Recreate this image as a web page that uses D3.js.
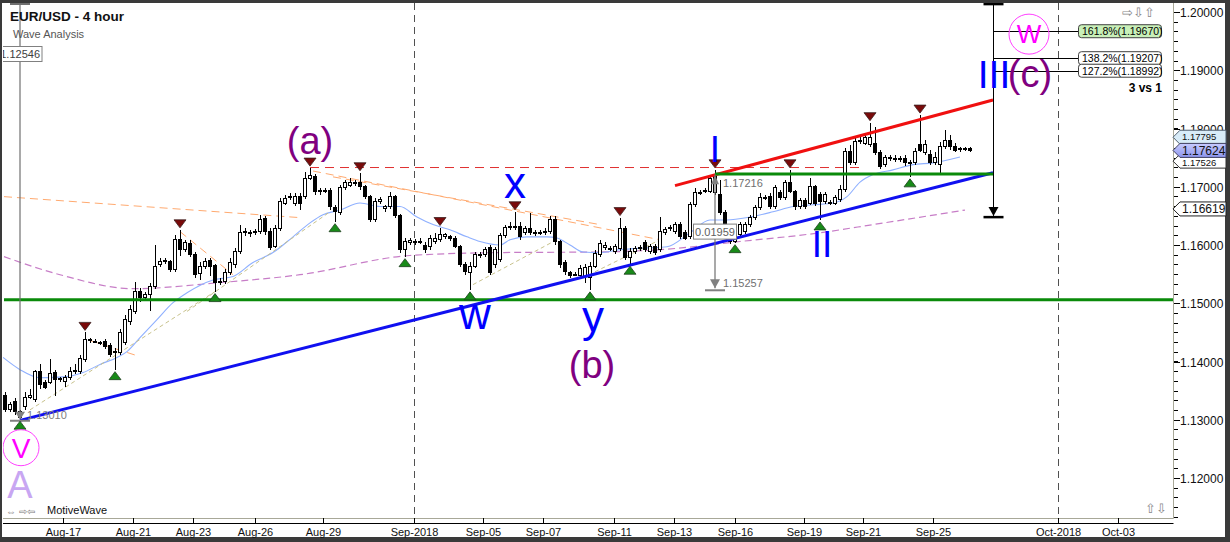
<!DOCTYPE html>
<html><head><meta charset="utf-8">
<script src="https://cdn.jsdelivr.net/npm/d3@7"></script>
<style>
body{margin:0;background:#fff;}
svg{display:block;}
text{font-family:"Liberation Sans",Arial,sans-serif;}
</style>
</head><body>
<svg id="c" width="1230" height="542"></svg>
<script>
// ---------- DATA (4-hour EUR/USD bars) ----------
const opens=[1.1342,1.1317,1.1331,1.1314,1.1323,1.1338,1.1335,1.1383,1.1364,1.1364,
1.1381,1.1369,1.1366,1.1372,1.1383,1.1383,1.1403,1.1436,1.1435,1.1432,
1.1434,1.1427,1.1415,1.1415,1.1432,1.1469,1.1486,1.1520,1.1510,1.1515,
1.1528,1.1567,1.1571,1.1571,1.1558,1.1609,1.1592,1.1602,1.1583,1.1551,
1.1563,1.1573,1.1565,1.1537,1.1537,1.1553,1.1567,1.1588,1.1621,1.1621,
1.1621,1.1623,1.1645,1.1624,1.1597,1.1628,1.1672,1.1681,1.1672,1.1683,
1.1683,1.1715,1.1717,1.1693,1.1691,1.1693,1.1664,1.1655,1.1698,1.1703,
1.1707,1.1708,1.1700,1.1683,1.1643,1.1674,1.1662,1.1666,1.1683,1.1650,
1.1592,1.1604,1.1606,1.1605,1.1600,1.1597,1.1606,1.1609,1.1614,1.1614,
1.1612,1.1597,1.1567,1.1553,1.1563,1.1583,1.1583,1.1595,1.1567,1.1575,
1.1616,1.1630,1.1630,1.1631,1.1621,1.1628,1.1621,1.1622,1.1621,1.1623,
1.1643,1.1606,1.1570,1.1553,1.1549,1.1547,1.1546,1.1544,1.1563,1.1583,
1.1595,1.1594,1.1588,1.1594,1.1628,1.1578,1.1588,1.1594,1.1604,1.1588,
1.1597,1.1592,1.1621,1.1628,1.1623,1.1635,1.1621,1.1614,1.1669,1.1690,
1.1693,1.1691,1.1690,1.1686,1.1655,1.1630,1.1606,1.1618,1.1623,1.1635,
1.1647,1.1664,1.1681,1.1684,1.1666,1.1690,1.1681,1.1707,1.1691,1.1666,
1.1676,1.1672,1.1700,1.1686,1.1674,1.1672,1.1672,1.1678,1.1695,1.1760,
1.1741,1.1777,1.1775,1.1772,1.1775,1.1758,1.1738,1.1750,1.1748,1.1748,
1.1748,1.1741,1.1741,1.1772,1.1758,1.1755,1.1741,1.1739,1.1769,1.1780,
1.1769,1.1765,1.1764,1.1765];
const highs=[1.1347,1.1331,1.1338,1.1317,1.1347,1.1352,1.1386,1.1395,1.1369,1.1405,
1.1386,1.1374,1.1377,1.1390,1.1395,1.1412,1.1450,1.1440,1.1438,1.1436,
1.1438,1.1431,1.1424,1.1455,1.1479,1.1497,1.1537,1.1527,1.1520,1.1535,
1.1600,1.1578,1.1578,1.1575,1.1618,1.1626,1.1609,1.1609,1.1588,1.1571,
1.1578,1.1578,1.1568,1.1544,1.1558,1.1578,1.1595,1.1635,1.1630,1.1626,
1.1628,1.1652,1.1650,1.1630,1.1635,1.1681,1.1686,1.1690,1.1690,1.1690,
1.1726,1.1732,1.1722,1.1698,1.1698,1.1698,1.1669,1.1703,1.1712,1.1715,
1.1712,1.1724,1.1703,1.1686,1.1681,1.1683,1.1669,1.1691,1.1686,1.1653,
1.1612,1.1612,1.1611,1.1612,1.1606,1.1618,1.1621,1.1630,1.1621,1.1618,
1.1616,1.1600,1.1570,1.1570,1.1588,1.1588,1.1597,1.1600,1.1597,1.1621,
1.1635,1.1640,1.1657,1.1640,1.1633,1.1655,1.1626,1.1626,1.1630,1.1650,
1.1650,1.1609,1.1575,1.1556,1.1553,1.1565,1.1568,1.1570,1.1592,1.1609,
1.1606,1.1599,1.1602,1.1647,1.1633,1.1594,1.1599,1.1600,1.1609,1.1602,
1.1602,1.1648,1.1631,1.1635,1.1640,1.1640,1.1626,1.1674,1.1698,1.1695,
1.1698,1.1721,1.1729,1.1712,1.1660,1.1633,1.1623,1.1640,1.1640,1.1652,
1.1669,1.1690,1.1686,1.1690,1.1703,1.1695,1.1712,1.1729,1.1695,1.1681,
1.1681,1.1715,1.1703,1.1691,1.1691,1.1678,1.1686,1.1703,1.1767,1.1772,
1.1784,1.1787,1.1793,1.1810,1.1802,1.1763,1.1755,1.1755,1.1755,1.1753,
1.1755,1.1746,1.1767,1.1823,1.1780,1.1763,1.1760,1.1777,1.1798,1.1789,
1.1775,1.1769,1.1769,1.1769];
const lows=[1.1314,1.1314,1.1309,1.1301,1.1317,1.1335,1.1331,1.1352,1.1352,1.1361,
1.1340,1.1364,1.1356,1.1369,1.1379,1.1379,1.1400,1.1432,1.1431,1.1429,
1.1422,1.1407,1.1386,1.1412,1.1429,1.1463,1.1482,1.1503,1.1506,1.1486,
1.1525,1.1563,1.1568,1.1554,1.1554,1.1581,1.1588,1.1580,1.1544,1.1540,
1.1558,1.1547,1.1520,1.1532,1.1533,1.1549,1.1561,1.1585,1.1616,1.1614,
1.1618,1.1619,1.1618,1.1592,1.1594,1.1624,1.1669,1.1678,1.1667,1.1660,
1.1679,1.1712,1.1686,1.1686,1.1689,1.1660,1.1640,1.1652,1.1695,1.1700,
1.1702,1.1695,1.1679,1.1640,1.1640,1.1671,1.1657,1.1662,1.1647,1.1587,
1.1580,1.1600,1.1600,1.1602,1.1587,1.1592,1.1602,1.1606,1.1611,1.1607,
1.1594,1.1563,1.1549,1.1523,1.1560,1.1578,1.1580,1.1549,1.1561,1.1571,
1.1612,1.1626,1.1626,1.1609,1.1618,1.1618,1.1616,1.1618,1.1618,1.1619,
1.1600,1.1561,1.1549,1.1544,1.1546,1.1544,1.1535,1.1523,1.1560,1.1580,
1.1592,1.1590,1.1585,1.1590,1.1575,1.1567,1.1585,1.1590,1.1588,1.1585,
1.1583,1.1588,1.1618,1.1624,1.1619,1.1611,1.1609,1.1611,1.1666,1.1686,
1.1690,1.1689,1.1686,1.1652,1.1623,1.1602,1.1604,1.1614,1.1619,1.1631,
1.1643,1.1660,1.1678,1.1662,1.1662,1.1678,1.1678,1.1689,1.1660,1.1662,
1.1662,1.1669,1.1667,1.1643,1.1671,1.1669,1.1669,1.1674,1.1691,1.1738,
1.1738,1.1774,1.1772,1.1769,1.1755,1.1731,1.1734,1.1744,1.1743,1.1743,
1.1736,1.1717,1.1738,1.1760,1.1755,1.1738,1.1738,1.1721,1.1765,1.1763,
1.1760,1.1760,1.1762,1.1760];
const closes=[1.1317,1.1326,1.1314,1.1304,1.1338,1.1342,1.1383,1.1361,1.1356,1.1379,
1.1369,1.1371,1.1372,1.1383,1.1384,1.1405,1.1438,1.1437,1.1434,1.1433,
1.1426,1.1412,1.1417,1.1450,1.1472,1.1489,1.1520,1.1510,1.1515,1.1528,
1.1563,1.1571,1.1573,1.1558,1.1609,1.1592,1.1604,1.1583,1.1549,1.1563,
1.1571,1.1563,1.1535,1.1538,1.1553,1.1570,1.1588,1.1621,1.1623,1.1622,
1.1623,1.1643,1.1623,1.1595,1.1628,1.1674,1.1679,1.1683,1.1683,1.1672,
1.1715,1.1719,1.1691,1.1691,1.1693,1.1666,1.1657,1.1698,1.1707,1.1708,
1.1706,1.1700,1.1683,1.1643,1.1674,1.1678,1.1666,1.1683,1.1650,1.1592,
1.1606,1.1607,1.1605,1.1606,1.1592,1.1611,1.1612,1.1618,1.1618,1.1611,
1.1597,1.1567,1.1554,1.1563,1.1583,1.1584,1.1592,1.1553,1.1592,1.1616,
1.1630,1.1631,1.1631,1.1614,1.1628,1.1621,1.1622,1.1621,1.1623,1.1643,
1.1606,1.1567,1.1554,1.1547,1.1548,1.1560,1.1561,1.1563,1.1585,1.1602,
1.1600,1.1593,1.1597,1.1628,1.1578,1.1588,1.1594,1.1595,1.1592,1.1597,
1.1587,1.1623,1.1626,1.1630,1.1635,1.1614,1.1612,1.1669,1.1690,1.1689,
1.1692,1.1715,1.1717,1.1655,1.1626,1.1606,1.1618,1.1635,1.1635,1.1647,
1.1664,1.1681,1.1680,1.1666,1.1698,1.1681,1.1707,1.1691,1.1666,1.1676,
1.1666,1.1700,1.1672,1.1674,1.1686,1.1673,1.1681,1.1696,1.1760,1.1741,
1.1777,1.1780,1.1784,1.1784,1.1758,1.1734,1.1750,1.1749,1.1749,1.1747,
1.1741,1.1740,1.1760,1.1763,1.1772,1.1741,1.1751,1.1769,1.1780,1.1769,
1.1763,1.1764,1.1765,1.17624];

// time axis (bar positions of the labels)
const tickLabels=["Aug-17","Aug-21","Aug-23","Aug-26","Aug-29","Sep-2018","Sep-05","Sep-07","Sep-11","Sep-13","Sep-16","Sep-19","Sep-21","Sep-25","Oct-2018","Oct-03"];
const tickBars=[11.6,25.6,37.6,50,63.6,81.8,95.6,107.6,121.8,133.8,146,159.8,171.6,185.6,210.6,222.6];
const priceTicks=[1.12,1.13,1.14,1.15,1.16,1.17,1.18,1.19,1.20];

// indicators [bar, price]
const fastMA=[[-0.4,1.1407],[3,1.1386],[7,1.1372],[12.4,1.1374],[15.6,1.1381],[19,1.1395],[22.4,1.1407],[24.4,1.1417],[27,1.1441],[30.4,1.1472],[33.6,1.1501],[36.4,1.1518],[41.6,1.1540],[45.6,1.1546],[49.6,1.1570],[53.6,1.1587],[57.6,1.1614],[61,1.1638],[63.6,1.1652],[67,1.1660],[71,1.1672],[75,1.1666],[79,1.1666],[82.4,1.1648],[85.6,1.1635],[89,1.1626],[92.4,1.1614],[95,1.1606],[99,1.1600],[101,1.1609],[104.4,1.1614],[108.4,1.1614],[110.4,1.1612],[113,1.1600],[115.6,1.1588],[119,1.1587],[123,1.1592],[128.4,1.1595],[132.4,1.1597],[137,1.1621],[141,1.1643],[144.4,1.1643],[149,1.1648],[153.6,1.1657],[157.6,1.1666],[161.6,1.1669],[165.6,1.1672],[168.4,1.1683],[171,1.1708],[173.6,1.1721],[177.6,1.1729],[181.6,1.1738],[185.6,1.1741],[191,1.1751]];
const slowMA=[[-0.2,1.1580],[11,1.1549],[25.6,1.1525],[42.4,1.1535],[59,1.1549],[81,1.1582],[99,1.1587],[119,1.1588],[131,1.1592],[147,1.1606],[163,1.1621],[173.6,1.1635],[192,1.1660]];
const orangeLines=[[[-0.2,1.1683],[59,1.1647]],[[61.6,1.1727],[131,1.1609]],[[65.6,1.1717],[119,1.1635]],[[35,1.1623],[45.6,1.1549]],[[17,1.1436],[26.4,1.1410]]];
const tanLines=[[[5,1.1317],[42,1.1520]],[[36.4,1.1486],[65,1.1657]],[[93.6,1.1532],[111,1.1612]],[[118,1.1554],[131,1.1609]]];

// trend lines
const blueLine=[[3,1.1299],[197.6,1.1724]];
const redLine=[[134,1.1702],[197.6,1.1849]];
const greenTop=[[142,1.1722],[197.6,1.1722]];
const greenBase=[[-0.2,1.1506],[233.8,1.1506]];
const redDashed=[[61,1.1733],[171,1.1733]];

// swing markers
const highMarkers=[16,35,61,71,87,102,123,142,157,173,183];
const lowMarkers=[3,22,42,66,80,93,117,125,146,163,181];

// fib projection
const fibLevels=[1.19670,1.19207,1.18992];
const fibLabels=["161.8%(1.19670)","138.2%(1.19207)","127.2%(1.18992)"];

// wave labels [text, bar, price(baseline), colour, size]
const waveLabels=[
 ["(a)",61,1.1756,"#800080",38],
 ["x",102,1.1681,"#0000ff",44],
 ["w",94,1.1455,"#0000ff",44],
 ["y",117.6,1.1450,"#0000ff",44],
 ["(b)",117.4,1.1371,"#800080",38],
 ["(c)",205,1.1871,"#800080",38],
 ["I",142,1.1743,"#0000ff",37],
 ["II",163.4,1.1580,"#0000ff",37],
 ["III",197.8,1.1870,"#0000ff",39],
 ["A",3,1.1165,"#c8a6f2",38]
];
const circleLabels=[["W",204.8,1.1962,20,26],["V",3.2,1.1252,18,28]];

// ---------- DRAW ----------
const svg=d3.select("#c");
const x=d3.scaleLinear().domain([-0.2,233.8]).range([4,1174]);
const y=d3.scaleLinear().domain([1.12,1.20]).range([478,12]);
const line=d3.line().x(d=>x(d[0])).y(d=>y(d[1]));

svg.append("rect").attr("width",1230).attr("height",542).attr("fill","#3a3a3a");
svg.append("rect").attr("x",2).attr("y",3).attr("width",1223).attr("height",534).attr("fill","#fff");

svg.append("defs").append("clipPath").attr("id","pc").append("rect")
  .attr("x",3).attr("y",3).attr("width",1170).attr("height",515);
const g=svg.append("g").attr("clip-path","url(#pc)");

// month dashed verticals
tickLabels.forEach((t,i)=>{
  if(t.indexOf("2018")>=0){
    g.append("line").attr("x1",Math.round(x(tickBars[i]))+0.5).attr("x2",Math.round(x(tickBars[i]))+0.5)
     .attr("y1",3).attr("y2",518).attr("stroke","#505050").attr("stroke-dasharray","7,5");
  }
});

// indicators
g.append("path").datum(slowMA).attr("d",line.curve(d3.curveMonotoneX)).attr("fill","none")
 .attr("stroke","#c77dc7").attr("stroke-width",1.2).attr("stroke-dasharray","7,4");
g.append("path").datum(fastMA).attr("d",line.curve(d3.curveMonotoneX)).attr("fill","none")
 .attr("stroke","#8fb0ff").attr("stroke-width",1.1);
line.curve(d3.curveLinear);
orangeLines.forEach(s=>g.append("path").datum(s).attr("d",line).attr("fill","none")
 .attr("stroke","#ffaa70").attr("stroke-width",1).attr("stroke-dasharray","8,5"));
tanLines.forEach(s=>g.append("path").datum(s).attr("d",line).attr("fill","none")
 .attr("stroke","#c8c28c").attr("stroke-width",1).attr("stroke-dasharray","4,3"));

// red dashed (a) level
g.append("path").datum(redDashed).attr("d",line).attr("fill","none")
 .attr("stroke","#e03030").attr("stroke-width",1).attr("stroke-dasharray","9,6");

// candles
const bars=opens.map((o,i)=>({i,o,c:closes[i],h:Math.max(highs[i],o,closes[i]),l:Math.min(lows[i],o,closes[i])}));
const cg=g.append("g").attr("shape-rendering","crispEdges");
cg.selectAll("line").data(bars).join("line")
  .attr("x1",d=>x(d.i)).attr("x2",d=>x(d.i))
  .attr("y1",d=>y(d.h)).attr("y2",d=>y(d.l)).attr("stroke","#000");
cg.selectAll("rect").data(bars).join("rect")
  .attr("x",d=>x(d.i)-1.5).attr("width",3)
  .attr("y",d=>Math.min(y(d.o),y(d.c)))
  .attr("height",d=>Math.max(1,Math.abs(y(d.o)-y(d.c))))
  .attr("fill",d=>d.c>=d.o?"#fff":"#000").attr("stroke","#000");

// trend lines
g.append("path").datum(greenBase).attr("d",line).attr("stroke","#0a8a0a").attr("stroke-width",3).attr("fill","none");
g.append("path").datum(blueLine).attr("d",line).attr("stroke","#1010f0").attr("stroke-width",3).attr("fill","none");
g.append("path").datum(redLine).attr("d",line).attr("stroke","#f01010").attr("stroke-width",3).attr("fill","none");
g.append("path").datum(greenTop).attr("d",line).attr("stroke","#0a8a0a").attr("stroke-width",3).attr("fill","none");

// measurement 1 (left)
{
 const bx=x(3), yb=y(1.1300);
 g.append("line").attr("x1",bx).attr("x2",bx).attr("y1",3).attr("y2",yb-4).attr("stroke","#707070").attr("stroke-width",1.2);
 g.append("rect").attr("x",bx-10).attr("y",2).attr("width",20).attr("height",3).attr("fill","#707070");
 g.append("path").attr("d",`M${bx-5},${yb-8}L${bx+5},${yb-8}L${bx},${yb}Z`).attr("fill","#808080");
 g.append("rect").attr("x",bx-10).attr("y",yb).attr("width",20).attr("height",2).attr("fill","#808080");
 g.append("text").attr("x",bx+7).attr("y",yb-1).attr("font-size",11).attr("fill","#808080").text("1.13010");
 g.append("rect").attr("x",-5).attr("y",46.5).attr("width",47).attr("height",15).attr("fill","#fff").attr("stroke","#808080");
 g.append("text").attr("x",40).attr("y",58).attr("text-anchor","end").attr("font-size",11).attr("fill","#404040").text("1.12546");
}
// measurement 2 (wave I)
{
 const bx=x(142), yt=y(1.17216), yb=y(1.15257);
 g.append("line").attr("x1",bx).attr("x2",bx).attr("y1",yt).attr("y2",yb).attr("stroke","#707070").attr("stroke-width",1.2);
 g.append("path").attr("d",`M${bx-4},${yt+10}L${bx+4},${yt+10}L${bx},${yt+1}Z`).attr("fill","#808080");
 g.append("path").attr("d",`M${bx-5},${yb-9}L${bx+5},${yb-9}L${bx},${yb}Z`).attr("fill","#808080");
 g.append("rect").attr("x",bx-10).attr("y",yb+1).attr("width",20).attr("height",2).attr("fill","#808080");
 g.append("text").attr("x",bx+8).attr("y",yt+13).attr("font-size",11).attr("fill","#707070").text("1.17216");
 g.append("text").attr("x",bx+8).attr("y",yb-1).attr("font-size",11).attr("fill","#707070").text("1.15257");
 const ym=y(1.1623);
 g.append("rect").attr("x",bx-21.5).attr("y",ym-7.5).attr("width",43).attr("height",15).attr("fill","#fff").attr("stroke","#808080");
 g.append("text").attr("x",bx).attr("y",ym+4).attr("text-anchor","middle").attr("font-size",11).attr("fill","#606060").text((1.17216-1.15257).toFixed(5));
}
// measurement 3 (fib projection)
{
 const bx=Math.round(x(197.6))+0.5, yt=y(1.2014), yb=y(1.1650);
 g.append("line").attr("x1",bx).attr("x2",bx).attr("y1",yt).attr("y2",yb).attr("stroke","#000");
 g.append("rect").attr("x",bx-10).attr("y",yt-1).attr("width",20).attr("height",2.5).attr("fill","#000");
 g.append("path").attr("d",`M${bx-5},${yb-9}L${bx+5},${yb-9}L${bx},${yb}Z`).attr("fill","#000");
 g.append("rect").attr("x",bx-10).attr("y",yb).attr("width",20).attr("height",2.5).attr("fill","#000");
 fibLevels.forEach((p,i)=>{
   const yy=Math.round(y(p))+0.5;
   g.append("line").attr("x1",bx).attr("x2",1079).attr("y1",yy).attr("y2",yy).attr("stroke","#000");
 });
 fibLevels.forEach((p,i)=>{
   const yy=y(p);
   g.append("rect").attr("x",1078.5).attr("y",yy-6.5).attr("width",83).attr("height",13).attr("rx",3)
     .attr("fill",i==0?"#c8f0b8":"#fff").attr("stroke","#404040");
   g.append("text").attr("x",1082).attr("y",yy+4).attr("font-size",10.5).attr("fill","#000").text(fibLabels[i]);
 });
 g.append("text").attr("x",1162).attr("y",92).attr("text-anchor","end").attr("font-size",12).attr("font-weight","bold").text("3 vs 1");
}

// swing markers
g.selectAll(".hm").data(highMarkers).join("path").attr("class","hm")
 .attr("d",i=>{const cx=x(i),yy=y(bars[i].h)-2;return `M${cx-6},${yy-8}L${cx+6},${yy-8}L${cx},${yy}Z`;})
 .attr("fill","#7a0a0a").attr("stroke","#3a2020").attr("stroke-width",0.8);
g.selectAll(".lm").data(lowMarkers).join("path").attr("class","lm")
 .attr("d",i=>{const cx=x(i),yy=y(bars[i].l)+2;return `M${cx-6},${yy+8}L${cx+6},${yy+8}L${cx},${yy}Z`;})
 .attr("fill","#188a18").attr("stroke","#204020").attr("stroke-width",0.8);

// wave labels
waveLabels.forEach(d=>{
 g.append("text").attr("x",x(d[1])).attr("y",y(d[2])).attr("text-anchor","middle")
  .attr("font-size",d[4]).attr("fill",d[3]).text(d[0]);
});
circleLabels.forEach(d=>{
 const cx=x(d[1]),cy=y(d[2]);
 g.append("circle").attr("cx",cx).attr("cy",cy).attr("r",d[3]).attr("fill","none").attr("stroke","#ff40ff").attr("stroke-width",1);
 g.append("text").attr("x",cx).attr("y",cy+d[4]*0.36).attr("text-anchor","middle").attr("font-size",d[4]).attr("fill","#ff00ff").text(d[0]);
});

// title & chrome texts
svg.append("text").attr("x",10).attr("y",21).attr("font-size",13.5).attr("font-weight","bold").attr("fill","#111").text("EUR/USD - 4 hour");
svg.append("text").attr("x",13).attr("y",38).attr("font-size",11).attr("fill","#555").text("Wave Analysis");
svg.append("text").attr("x",6).attr("y",515).attr("font-size",10).attr("fill","#777").attr("font-family","DejaVu Sans").text("\u21D4 \u21E8\u21E6");
svg.append("text").attr("x",47).attr("y",514).attr("font-size",11).attr("fill","#111").text("MotiveWave");
svg.append("text").attr("x",1122).attr("y",17).attr("font-size",13).attr("fill","#888").attr("font-family","DejaVu Sans").text("\u21E8\u21E9\u21E7");
svg.append("text").attr("x",1145).attr("y",513).attr("font-size",13).attr("fill","#888").attr("font-family","DejaVu Sans").text("\u21E7\u21E9");

// ---------- axes ----------
svg.append("line").attr("x1",3).attr("x2",1173.5).attr("y1",518.5).attr("y2",518.5).attr("stroke","#a8a898");
svg.append("line").attr("x1",1173.5).attr("x2",1173.5).attr("y1",3).attr("y2",518.5).attr("stroke","#a8a898");
svg.append("line").attr("x1",3).attr("x2",1173.5).attr("y1",523.5).attr("y2",523.5).attr("stroke","#000");
tickBars.forEach((b,i)=>{
 const xx=Math.round(x(b))+0.5;
 svg.append("line").attr("x1",xx).attr("x2",xx).attr("y1",518).attr("y2",523).attr("stroke","#000");
 svg.append("text").attr("x",xx).attr("y",536).attr("text-anchor","middle").attr("font-size",11).attr("fill","#111").text(tickLabels[i]);
});
const minor=d3.range(1.12-0.02,1.2015,0.01/6);
minor.forEach(p=>{const yy=Math.round(y(p))+0.5; if(yy>3&&yy<518)
 svg.append("line").attr("x1",1174).attr("x2",1178).attr("y1",yy).attr("y2",yy).attr("stroke","#000");});
priceTicks.forEach(p=>{
 const yy=Math.round(y(p))+0.5;
 svg.append("line").attr("x1",1174).attr("x2",1180).attr("y1",yy).attr("y2",yy).attr("stroke","#000");
 svg.append("text").attr("x",1180).attr("y",yy+4.5).attr("font-size",12).attr("fill","#111").text(p.toFixed(5));
});
// price flags (two partly hidden flags behind the last price)
function flag(p,txt,fill,stroke,fs,dy){
 const yy=y(p);
 svg.append("path").attr("d",`M1173,${yy}L1180,${yy-7}L1226,${yy-7}L1226,${yy+7}L1180,${yy+7}Z`)
  .attr("fill",fill).attr("stroke",stroke);
 svg.append("text").attr("x",1182).attr("y",yy+dy).attr("font-size",fs).attr("fill","#111").text(txt);
}
flag(1.17850,"1.17795","#d8ecf8","#506070",9.5,3);
flag(1.17440,"1.17526","#fff","#303030",9.5,5);
flag(1.16619,"1.16619","#fff","#202020",12,4.5);
const gr=svg.append("defs").append("linearGradient").attr("id","lg").attr("x1",0).attr("x2",0).attr("y1",0).attr("y2",1);
gr.append("stop").attr("offset","0").attr("stop-color","#c8ccff");
gr.append("stop").attr("offset","1").attr("stop-color","#8c94ec");
flag(closes[closes.length-1],closes[closes.length-1].toFixed(5),"url(#lg)","#404060",12,4.5);
</script>
</body></html>
